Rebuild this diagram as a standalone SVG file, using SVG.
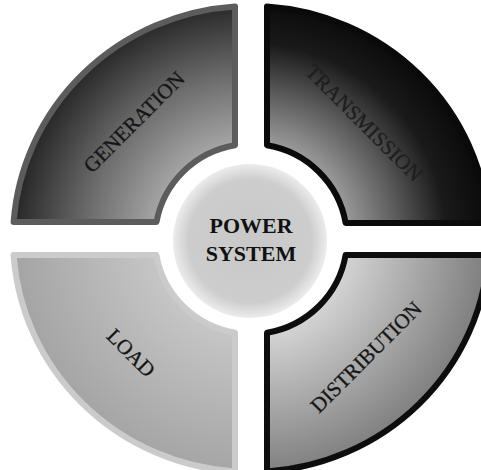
<svg xmlns="http://www.w3.org/2000/svg" width="481" height="470" viewBox="0 0 481 470">
  <style>
    .seg { stroke-linejoin: round; }
    .lbl { font-family: "Liberation Serif", "Times New Roman", serif; font-size: 21px; text-anchor: middle; fill: #151515; stroke: #151515; stroke-width: 0.3; }
    .core { font-family: "Liberation Serif", "Times New Roman", serif; font-size: 22px; font-weight: bold; text-anchor: middle; fill: #111; }
  </style>
  <defs>
    <radialGradient id="gGen" gradientUnits="userSpaceOnUse" cx="251" cy="239" r="238">
      <stop offset="0.4" stop-color="#a6a6a6"/>
      <stop offset="0.68" stop-color="#6e6e6e"/>
      <stop offset="1" stop-color="#262626"/>
    </radialGradient>
    <radialGradient id="gTra" gradientUnits="userSpaceOnUse" cx="251" cy="239" r="238">
      <stop offset="0.4" stop-color="#9c9c9c"/>
      <stop offset="0.62" stop-color="#5a5a5a"/>
      <stop offset="0.82" stop-color="#1a1a1a"/>
      <stop offset="1" stop-color="#0a0a0a"/>
    </radialGradient>
    <radialGradient id="gLoa" gradientUnits="userSpaceOnUse" cx="251" cy="239" r="238">
      <stop offset="0.4" stop-color="#c6c6c6"/>
      <stop offset="1" stop-color="#a4a4a4"/>
    </radialGradient>
    <radialGradient id="gDis" gradientUnits="userSpaceOnUse" cx="251" cy="239" r="238">
      <stop offset="0.4" stop-color="#d4d4d4"/>
      <stop offset="1" stop-color="#7e7e7e"/>
    </radialGradient>
    <radialGradient id="gCore" cx="0.5" cy="0.5" r="0.5">
      <stop offset="0" stop-color="#c8c8c8"/>
      <stop offset="0.8" stop-color="#cdcdcd"/>
      <stop offset="1" stop-color="#ececec"/>
    </radialGradient>
  </defs>

  <g id="generation">
    <path class="seg" d="M13.6,222 A238,233 0 0 1 235,6.5 L235,145.3 A96,95 0 0 0 156.5,222 Z" fill="url(#gGen)" stroke="#5c5c5c" stroke-width="6"/>
    <text class="lbl" transform="translate(134,122) rotate(-45)" y="7">GENERATION</text>
  </g>

  <g id="transmission">
    <path class="seg" d="M267,6.5 A238,233 0 0 1 488.4,223 L345.6,223 A96,95 0 0 0 267,145.3 Z" fill="url(#gTra)" stroke="#0a0a0a" stroke-width="6"/>
    <text class="lbl" transform="translate(364,123) rotate(45)" y="7" style="fill:#1e1e1e;stroke:#1e1e1e">TRANSMISSION</text>
  </g>

  <g id="load">
    <path class="seg" d="M13.6,255 L156.4,255 A96,95 0 0 0 235,332.7 L235,471.5 A238,233 0 0 1 13.6,255 Z" fill="url(#gLoa)" stroke="#cbcbcb" stroke-width="6"/>
    <text class="lbl" transform="translate(131,353) rotate(45)" y="7">LOAD</text>
  </g>

  <g id="distribution">
    <path class="seg" d="M267,332.7 A96,95 0 0 0 345.6,255 L488.4,255 A238,233 0 0 1 267,471.5 Z" fill="url(#gDis)" stroke="#0d0d0d" stroke-width="6"/>
    <text class="lbl" transform="translate(366,357) rotate(-45)" y="7">DISTRIBUTION</text>
  </g>

  <g id="power-system">
    <circle cx="250" cy="241" r="77" fill="url(#gCore)"/>
    <text class="core" x="251" y="233">POWER</text>
    <text class="core" x="251" y="261">SYSTEM</text>
  </g>

  <g id="connectors"/>
</svg>
